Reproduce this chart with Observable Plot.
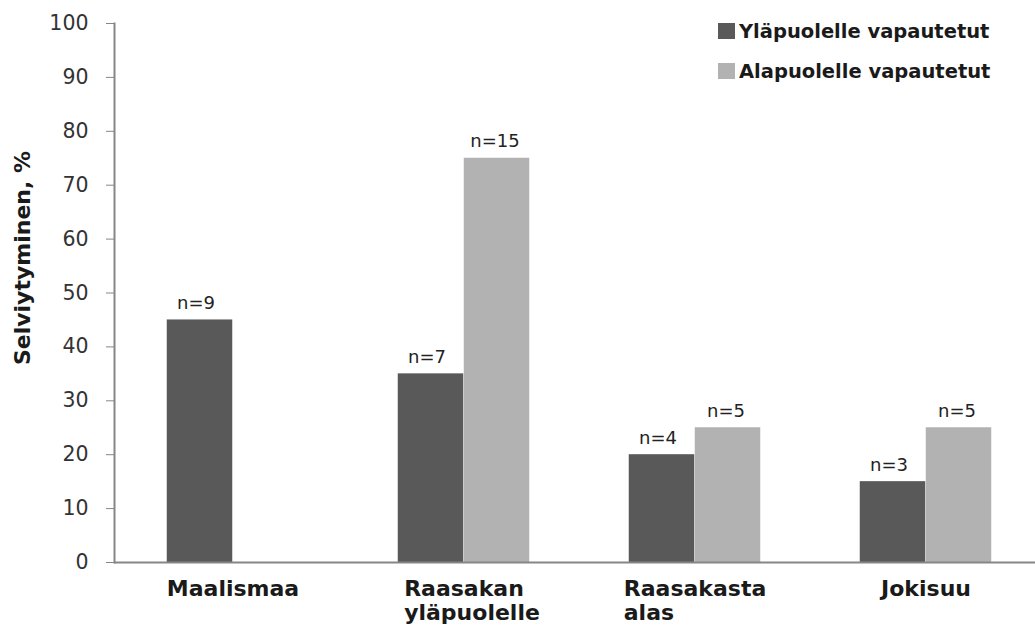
<!DOCTYPE html>
<html><head><meta charset="utf-8">
<script src="https://cdn.jsdelivr.net/npm/d3@7"></script>
<script src="https://cdn.jsdelivr.net/npm/@observablehq/plot@0.6"></script>
<style>
body{margin:0;background:#fff;}
#chart{position:relative;width:1035px;height:628px;overflow:hidden;}
#legend{position:absolute;left:718px;top:11px;font-family:"DejaVu Sans";font-weight:bold;font-size:19.5px;color:#1a1a1a;}
.row{display:flex;align-items:center;height:40px;}
.sw{width:17px;height:16px;margin-right:4px;}
#ytitle{position:absolute;left:23px;top:258px;transform:translate(-50%,-50%) rotate(-90deg);white-space:nowrap;font-family:"DejaVu Sans";font-weight:bold;font-size:22px;color:#1a1a1a;line-height:1;}
</style></head>
<body><div id="chart"><div id="legend"></div><div id="ytitle"></div></div>
<script>
const categories = ["Maalismaa", "Raasakan yläpuolelle", "Raasakasta alas", "Jokisuu"];
const series = ["Yläpuolelle vapautetut", "Alapuolelle vapautetut"];
const upperValues = [45, 35, 20, 15];
const lowerValues = [null, 75, 25, 25];
const upperN = [9, 7, 4, 3];
const lowerN = [null, 15, 5, 5];
const yTicks = [0, 10, 20, 30, 40, 50, 60, 70, 80, 90, 100];
const yTitle = "Selviytyminen, %";
const colors = ["#595959", "#b2b2b2"];

const rows = categories.flatMap((c, i) => [
  {category: c, series: series[0], value: upperValues[i], n: upperN[i]},
  {category: c, series: series[1], value: lowerValues[i], n: lowerN[i]}
]).filter(d => d.value != null);
const upper = rows.filter(d => d.series === series[0]);
const lower = rows.filter(d => d.series === series[1]);

const chart = Plot.plot({
  width: 1035,
  height: 628,
  marginLeft: 114,
  marginRight: 0,
  marginTop: 23,
  marginBottom: 66,
  style: {fontFamily: "DejaVu Sans", background: "white"},
  x: {domain: categories, range: [116, 1042], padding: 0, axis: null},
  y: {domain: [0, 100], axis: null},
  color: {domain: series, range: colors},
  marks: [
    Plot.barY(upper, {x: "category", y: "value", fill: "series", insetLeft: 49.75, insetRight: 115.75}),
    Plot.barY(lower, {x: "category", y: "value", fill: "series", insetLeft: 115.75, insetRight: 49.75}),
    Plot.text(upper, {x: "category", y: "value", text: d => `n=${d.n}`, dx: -37, dy: -11, lineAnchor: "bottom", fontSize: 18, fill: "#222"}),
    Plot.text(lower, {x: "category", y: "value", text: d => `n=${d.n}`, dx: 31, dy: -11, lineAnchor: "bottom", fontSize: 18, fill: "#222"}),
    Plot.axisY({ticks: yTicks, tickSize: 8, tickPadding: 18, stroke: "#868686", fill: "#333", fontSize: 20.5, label: null}),
    Plot.axisX({tickSize: 0, tickPadding: 16, tickFormat: d => d.replace(" ", "\n"), fontSize: 22, fontWeight: "bold", fill: "#1a1a1a", label: null, lineHeight: 1.1}),
    Plot.frame({anchor: "left", stroke: "#868686", strokeWidth: 2}),
    Plot.ruleY([0], {stroke: "#868686", strokeWidth: 2})
  ]
});
const container = document.getElementById("chart");
container.insertBefore(chart, container.firstChild);

// left-align wrapped category lines under the first line
chart.querySelectorAll('g[aria-label="x-axis tick label"] text').forEach(t => {
  const spans = t.querySelectorAll("tspan");
  if (spans.length > 1) {
    const w = spans[0].getComputedTextLength();
    t.setAttribute("text-anchor", "start");
    spans.forEach(s => s.setAttribute("x", -w / 2));
  }
});

d3.select("#ytitle").text(yTitle);
const legend = d3.select("#legend");
series.forEach((s, i) => {
  const row = legend.append("div").attr("class", "row");
  row.append("div").attr("class", "sw").style("background", colors[i]);
  row.append("span").text(s);
});
</script>
</body></html>
